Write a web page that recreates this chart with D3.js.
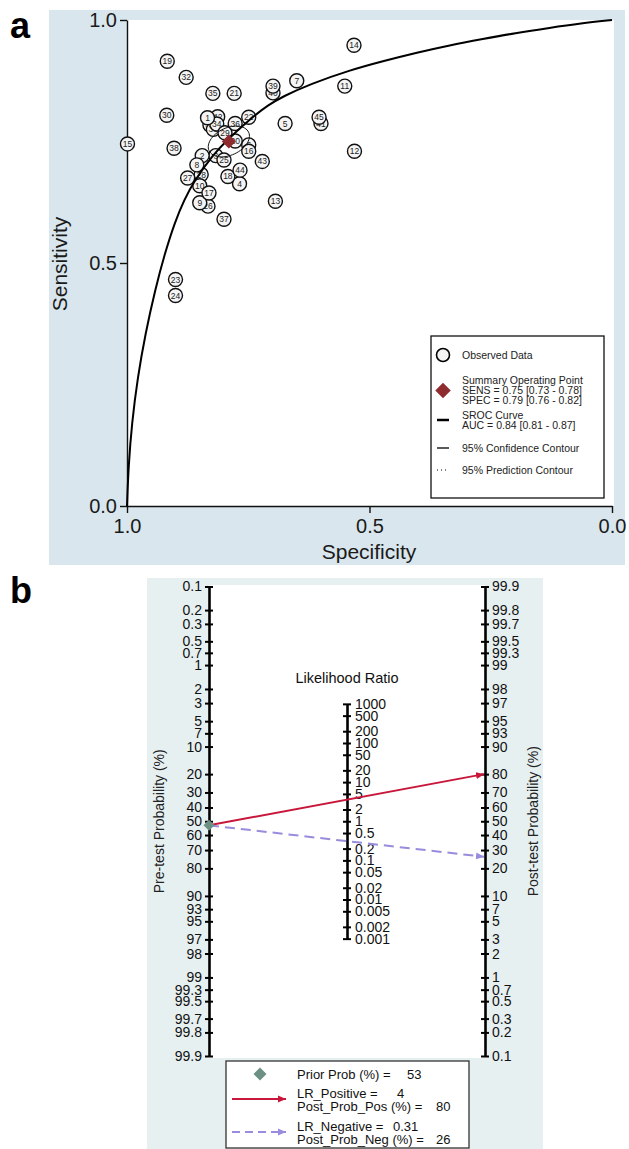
<!DOCTYPE html>
<html>
<head>
<meta charset="utf-8">
<script src="https://cdn.jsdelivr.net/npm/d3@7"></script>
<style>
  body { margin: 0; background: #fff; }
  svg { display: block; font-family: "Liberation Sans", Arial, sans-serif; }
</style>
</head>
<body>
<svg id="chart" width="629" height="1149"></svg>
<script>
// ---- panel a data: study points (drawn in this order) ----
const studyIds = [40, 41, 42, 31, 33, 34, 29, 6, 3, 25, 28, 26,
  1, 2, 4, 5, 7, 8, 9, 10, 11, 12, 13, 14, 15, 16, 17, 18, 19, 20, 21, 22, 23, 24,
  27, 30, 32, 35, 36, 37, 38, 39, 43, 44, 45];
const studySpec = [0.699, 0.600, 0.813, 0.829, 0.822, 0.815, 0.798, 0.749, 0.817, 0.800, 0.847, 0.833,
  0.834, 0.845, 0.768, 0.674, 0.650, 0.856, 0.850, 0.850, 0.551, 0.531, 0.694, 0.532, 0.999, 0.749,
  0.831, 0.792, 0.917, 0.777, 0.779, 0.749, 0.900, 0.900,
  0.875, 0.918, 0.878, 0.823, 0.777, 0.800, 0.903, 0.699, 0.721, 0.767, 0.604];
const studySens = [0.850, 0.787, 0.801, 0.784, 0.775, 0.786, 0.768, 0.743, 0.721, 0.712, 0.682, 0.617,
  0.799, 0.721, 0.663, 0.787, 0.875, 0.702, 0.624, 0.659, 0.864, 0.730, 0.627, 0.948, 0.745, 0.730,
  0.644, 0.678, 0.915, 0.751, 0.849, 0.800, 0.466, 0.433,
  0.675, 0.804, 0.882, 0.849, 0.787, 0.590, 0.736, 0.864, 0.709, 0.691, 0.800];

const summarySpec = 0.79;
const summarySens = 0.75;
// confidence contour: semi-axes (data units) and tilt (degrees)
const confAxes = [0.045, 0.028];
const confTilt = 25;

// SROC curve
const srocSpec = [1.000, 0.997, 0.990, 0.978, 0.962, 0.942, 0.922, 0.901, 0.882, 0.862, 0.823, 0.794,
  0.742, 0.709, 0.678, 0.623, 0.540, 0.470, 0.402, 0.335, 0.266, 0.200, 0.128, 0.064, 0.000];
const srocSens = [0.000, 0.080, 0.170, 0.265, 0.355, 0.445, 0.520, 0.585, 0.630, 0.668, 0.722, 0.753,
  0.800, 0.825, 0.843, 0.868, 0.897, 0.916, 0.933, 0.948, 0.961, 0.973, 0.984, 0.993, 1.000];

const sensTicks = [0, 0.5, 1];
const specTicks = [1, 0.5, 0];

const legendA = [
  ["Observed Data"],
  ["Summary Operating Point", "SENS = 0.75 [0.73 - 0.78]", "SPEC = 0.79 [0.76 - 0.82]"],
  ["SROC Curve", "AUC = 0.84 [0.81 - 0.87]"],
  ["95% Confidence Contour"],
  ["95% Prediction Contour"]
];

// ---- panel b data: Fagan nomogram ----
const probTicks = [0.1, 0.2, 0.3, 0.5, 0.7, 1, 2, 3, 5, 7, 10, 20, 30, 40, 50, 60, 70, 80,
  90, 93, 95, 97, 98, 99, 99.3, 99.5, 99.7, 99.8, 99.9];
const lrTicks = [1000, 500, 200, 100, 50, 20, 10, 5, 2, 1, 0.5, 0.2, 0.1, 0.05, 0.02, 0.01, 0.005, 0.002, 0.001];
const priorProb = 53;
const lrPositive = 4;
const postProbPos = 80;
const lrNegative = 0.31;
const postProbNeg = 26;

const logit = p => Math.log(p / (1 - p));
const svg = d3.select("#chart");

// =================== panel a ===================
svg.append("rect").attr("x", 49).attr("y", 10).attr("width", 576).attr("height", 555).attr("fill", "#d9e6ed");

const x = d3.scaleLinear().domain([1, 0]).range([127, 612]);
const y = d3.scaleLinear().domain([0, 1]).range([506, 20]);

svg.append("rect")
  .attr("x", x(1)).attr("y", y(1))
  .attr("width", x(0) - x(1) + 2).attr("height", y(0) - y(1))
  .attr("fill", "#fff");

const ga = svg.append("g");

const axL = ga.append("g").attr("transform", `translate(${x(1)},0)`)
  .call(d3.axisLeft(y).tickValues(sensTicks).tickFormat(d3.format(".1f"))
    .tickSize(7).tickSizeOuter(0).tickPadding(3));
const axB = ga.append("g").attr("transform", `translate(0,${y(0)})`)
  .call(d3.axisBottom(x).tickValues(specTicks).tickFormat(d3.format(".1f"))
    .tickSize(7).tickSizeOuter(0).tickPadding(6));
[axL, axB].forEach(a => {
  a.attr("font-family", null).attr("font-size", 20);
  a.selectAll("text").attr("fill", "#1a1a1a");
  a.select(".domain").attr("stroke", "#111").attr("stroke-width", 1.4);
  a.selectAll(".tick line").attr("stroke", "#111").attr("stroke-width", 1.4);
});

ga.append("text").attr("transform", "translate(67,264) rotate(-90)")
  .attr("text-anchor", "middle").attr("font-size", 21).attr("fill", "#1a1a1a").text("Sensitivity");
ga.append("text").attr("x", 369).attr("y", 559)
  .attr("text-anchor", "middle").attr("font-size", 21).attr("fill", "#1a1a1a").text("Specificity");

// study circles
const studies = d3.zip(studyIds, studySpec, studySens);
const pts = ga.selectAll("g.study").data(studies).join("g")
  .attr("class", "study")
  .attr("transform", d => `translate(${x(d[1])},${y(d[2])})`);
pts.append("circle").attr("r", 7).attr("fill", "#f4f4f4").attr("stroke", "#111").attr("stroke-width", 1.4);
pts.append("text").text(d => d[0])
  .attr("text-anchor", "middle").attr("dy", "0.35em")
  .attr("font-size", 8.5).attr("fill", "#222");

// SROC curve
const srocLine = d3.line().x(d => x(d[0])).y(d => y(d[1])).curve(d3.curveBasis);
ga.append("path").datum(d3.zip(srocSpec, srocSens))
  .attr("d", srocLine).attr("fill", "none").attr("stroke", "#000").attr("stroke-width", 2);

// confidence contour
const tilt = confTilt * Math.PI / 180;
const contour = d3.range(0, 361, 6).map(t => {
  const a = t * Math.PI / 180;
  const u = confAxes[0] * Math.cos(a), v = confAxes[1] * Math.sin(a);
  const fpr = (1 - summarySpec) + u * Math.cos(tilt) - v * Math.sin(tilt);
  const se = summarySens + u * Math.sin(tilt) + v * Math.cos(tilt);
  return [1 - fpr, se];
});
ga.append("path").datum(contour)
  .attr("d", d3.line().x(d => x(d[0])).y(d => y(d[1])))
  .attr("fill", "none").attr("stroke", "#111").attr("stroke-width", 1);

// summary point
ga.append("path")
  .attr("d", d3.symbol(d3.symbolSquare, 100)())
  .attr("transform", `translate(${x(summarySpec)},${y(summarySens)}) rotate(45)`)
  .attr("fill", "#8e2b2e");

// legend a
const lgA = ga.append("g").attr("font-size", 10.5).attr("fill", "#222");
lgA.append("rect").attr("x", 431).attr("y", 336).attr("width", 173).attr("height", 162)
  .attr("fill", "#fff").attr("stroke", "#111").attr("stroke-width", 1.3);
const legendRowY = [355, 390.5, 420, 448, 470];
legendA.forEach((lines, i) => {
  const cy = legendRowY[i];
  const n = lines.length;
  lines.forEach((t, j) => {
    lgA.append("text").attr("x", 462).attr("y", cy + (j - (n - 1) / 2) * 10.2)
      .attr("dy", "0.35em").text(t);
  });
});
lgA.append("circle").attr("cx", 443).attr("cy", legendRowY[0]).attr("r", 6.5)
  .attr("fill", "#f4f4f4").attr("stroke", "#000").attr("stroke-width", 1.6);
lgA.append("path").attr("d", d3.symbol(d3.symbolSquare, 120)())
  .attr("transform", `translate(443,${legendRowY[1]}) rotate(45)`).attr("fill", "#8e2b2e");
lgA.append("line").attr("x1", 437).attr("x2", 449).attr("y1", legendRowY[2]).attr("y2", legendRowY[2])
  .attr("stroke", "#000").attr("stroke-width", 2.5);
lgA.append("line").attr("x1", 437).attr("x2", 449).attr("y1", legendRowY[3]).attr("y2", legendRowY[3])
  .attr("stroke", "#000").attr("stroke-width", 1.3);
lgA.append("line").attr("x1", 437).attr("x2", 449).attr("y1", legendRowY[4]).attr("y2", legendRowY[4])
  .attr("stroke", "#000").attr("stroke-width", 1).attr("stroke-dasharray", "1,3");

svg.append("text").attr("x", 10).attr("y", 38).attr("font-size", 36).attr("font-weight", "bold")
  .attr("fill", "#000").text("a");

// =================== panel b ===================
svg.append("rect").attr("x", 147).attr("y", 578).attr("width", 396).attr("height", 571).attr("fill", "#e7f0f1");
const xL = 209, xM = 347, xR = 485;
svg.append("rect").attr("x", xL).attr("y", 585).attr("width", xR - xL).attr("height", 473).attr("fill", "#fff");

const yPre = d3.scaleLinear().domain([logit(0.001), logit(0.999)]).range([586.5, 1056]);
const yPost = d3.scaleLinear().domain([logit(0.999), logit(0.001)]).range([586.5, 1056]);
const yLR = d3.scaleLog().domain([1000, 0.001])
  .range([(yPre(0) + yPost(Math.log(1000))) / 2, (yPre(0) + yPost(Math.log(0.001))) / 2]);

const probVals = probTicks.map(p => logit(p / 100));
const gb = svg.append("g");

function styleNomoAxis(a) {
  a.attr("font-family", null).attr("font-size", 14);
  a.selectAll("text").attr("fill", "#111");
  a.select(".domain").attr("stroke", "#000").attr("stroke-width", 2.6);
  a.selectAll(".tick line").attr("x1", -4).attr("x2", 4).attr("stroke", "#000").attr("stroke-width", 2);
}

const axPre = gb.append("g").attr("transform", `translate(${xL},0)`)
  .call(d3.axisLeft(yPre).tickValues(probVals).tickFormat((d, i) => String(probTicks[i]))
    .tickSize(4).tickSizeOuter(0).tickPadding(3));
const axPost = gb.append("g").attr("transform", `translate(${xR},0)`)
  .call(d3.axisRight(yPost).tickValues(probVals).tickFormat((d, i) => String(probTicks[i]))
    .tickSize(4).tickSizeOuter(0).tickPadding(3));
const axLR = gb.append("g").attr("transform", `translate(${xM},0)`)
  .call(d3.axisRight(yLR).tickValues(lrTicks).tickFormat(d => String(d))
    .tickSize(4).tickSizeOuter(0).tickPadding(4));
[axPre, axPost, axLR].forEach(styleNomoAxis);

gb.append("text").attr("x", xM).attr("y", 683).attr("text-anchor", "middle")
  .attr("font-size", 14.5).attr("fill", "#111").text("Likelihood Ratio");
gb.append("text").attr("transform", `translate(164,${yPre(0)}) rotate(-90)`)
  .attr("text-anchor", "middle").attr("font-size", 14).attr("fill", "#222").text("Pre-test Probability (%)");
gb.append("text").attr("transform", `translate(538,${yPre(0)}) rotate(-90)`)
  .attr("text-anchor", "middle").attr("font-size", 14).attr("fill", "#222").text("Post-test Probability (%)");

const defs = svg.append("defs");
[["arrRed", "#c8173a"], ["arrBlue", "#978cdd"]].forEach(([id, c]) => {
  defs.append("marker").attr("id", id).attr("viewBox", "-8 -4 8 8")
    .attr("refX", 0).attr("refY", 0).attr("markerWidth", 8).attr("markerHeight", 8)
    .attr("markerUnits", "userSpaceOnUse").attr("orient", "auto")
    .append("path").attr("d", "M-8,-3.5L0,0L-8,3.5Z").attr("fill", c);
});

const yPrior = yPre(logit(priorProb / 100));
gb.append("line").attr("x1", xL).attr("y1", yPrior)
  .attr("x2", xR - 1).attr("y2", yPost(logit(postProbPos / 100)))
  .attr("stroke", "#c8173a").attr("stroke-width", 2).attr("marker-end", "url(#arrRed)");
gb.append("line").attr("x1", xL).attr("y1", yPrior)
  .attr("x2", xR - 1).attr("y2", yPost(logit(postProbNeg / 100)))
  .attr("stroke", "#978cdd").attr("stroke-width", 2).attr("stroke-dasharray", "10,6")
  .attr("marker-end", "url(#arrBlue)");
gb.append("path").attr("d", d3.symbol(d3.symbolSquare, 60)())
  .attr("transform", `translate(${xL},${yPrior}) rotate(45)`).attr("fill", "#6d9085");

// legend b
const lgB = gb.append("g").attr("font-size", 13).attr("fill", "#111");
lgB.append("rect").attr("x", 226).attr("y", 1061).attr("width", 243).attr("height", 87)
  .attr("fill", "#fff").attr("stroke", "#333").attr("stroke-width", 1.3);
lgB.append("path").attr("d", d3.symbol(d3.symbolSquare, 85)())
  .attr("transform", "translate(260,1074) rotate(45)").attr("fill", "#6d9085");
lgB.append("line").attr("x1", 232).attr("x2", 286).attr("y1", 1099).attr("y2", 1099)
  .attr("stroke", "#c8173a").attr("stroke-width", 2).attr("marker-end", "url(#arrRed)");
lgB.append("line").attr("x1", 232).attr("x2", 286).attr("y1", 1132).attr("y2", 1132)
  .attr("stroke", "#978cdd").attr("stroke-width", 2).attr("stroke-dasharray", "8,5")
  .attr("marker-end", "url(#arrBlue)");
const legendB = [
  ["Prior Prob (%) =", priorProb, 1074, 407],
  ["LR_Positive =", lrPositive, 1093, 397],
  ["Post_Prob_Pos (%) =", postProbPos, 1106, 436],
  ["LR_Negative =", lrNegative, 1126, 393],
  ["Post_Prob_Neg (%) =", postProbNeg, 1139, 436]
];
legendB.forEach(([t, v, ty, vx]) => {
  lgB.append("text").attr("x", 297).attr("y", ty).attr("dy", "0.35em").text(t);
  lgB.append("text").attr("x", vx).attr("y", ty).attr("dy", "0.35em").text(String(v));
});

svg.append("text").attr("x", 10).attr("y", 603).attr("font-size", 36).attr("font-weight", "bold")
  .attr("fill", "#000").text("b");
</script>
</body>
</html>
